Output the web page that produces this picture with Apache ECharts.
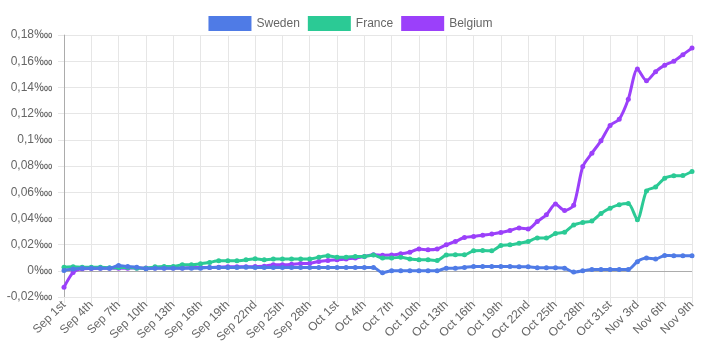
<!DOCTYPE html>
<html>
<head>
<meta charset="utf-8">
<script src="https://cdn.jsdelivr.net/npm/echarts@6/dist/echarts.min.js"></script>
<style>html,body{margin:0;padding:0;background:#fff;}#c{width:701px;height:356px;}</style>
</head>
<body>
<div id="c"></div>
<script>
const categories = [
 "Sep 1st","Sep 2nd","Sep 3rd","Sep 4th","Sep 5th","Sep 6th","Sep 7th","Sep 8th","Sep 9th","Sep 10th",
 "Sep 11th","Sep 12th","Sep 13th","Sep 14th","Sep 15th","Sep 16th","Sep 17th","Sep 18th","Sep 19th","Sep 20th",
 "Sep 21st","Sep 22nd","Sep 23rd","Sep 24th","Sep 25th","Sep 26th","Sep 27th","Sep 28th","Sep 29th","Sep 30th",
 "Oct 1st","Oct 2nd","Oct 3rd","Oct 4th","Oct 5th","Oct 6th","Oct 7th","Oct 8th","Oct 9th","Oct 10th",
 "Oct 11th","Oct 12th","Oct 13th","Oct 14th","Oct 15th","Oct 16th","Oct 17th","Oct 18th","Oct 19th","Oct 20th",
 "Oct 21st","Oct 22nd","Oct 23rd","Oct 24th","Oct 25th","Oct 26th","Oct 27th","Oct 28th","Oct 29th","Oct 30th",
 "Oct 31st","Nov 1st","Nov 2nd","Nov 3rd","Nov 4th","Nov 5th","Nov 6th","Nov 7th","Nov 8th","Nov 9th"
];
const sweden = [
 0.0003,0.0013,0.002,0.002,0.002,0.002,0.004,0.0033,0.0028,0.0015,
 0.002,0.002,0.002,0.002,0.002,0.002,0.0025,0.0025,0.0025,0.0025,
 0.0028,0.0025,0.0025,0.0025,0.0025,0.0025,0.0025,0.0025,0.0025,0.0025,
 0.0025,0.0025,0.0025,0.0025,0.0025,-0.0015,0,0,0,0,
 0,0,0.002,0.002,0.0025,0.0033,0.0033,0.0033,0.0033,0.0033,
 0.003,0.003,0.0023,0.0023,0.0023,0.002,-0.001,0,0.001,0.001,
 0.001,0.001,0.001,0.007,0.0097,0.009,0.0117,0.0115,0.0115,0.0115
];
const france = [
 0.0028,0.003,0.0028,0.0028,0.0028,0.0023,0.0025,0.0025,0.002,0.002,
 0.003,0.0033,0.0033,0.0046,0.0046,0.0053,0.0064,0.0076,0.0076,0.0076,
 0.0084,0.0092,0.0084,0.009,0.009,0.009,0.009,0.009,0.0104,0.0114,
 0.0104,0.0104,0.011,0.011,0.012,0.0097,0.0097,0.0104,0.009,0.0084,
 0.0084,0.0079,0.012,0.0122,0.0122,0.0153,0.0155,0.0153,0.0193,0.0198,
 0.021,0.0224,0.025,0.025,0.0285,0.0295,0.035,0.0369,0.038,0.0438,
 0.0478,0.0505,0.0513,0.039,0.061,0.064,0.0707,0.0725,0.0728,0.0758
];
const belgium = [
 -0.0125,-0.0013,0.0015,0.0018,0.002,0.002,0.002,0.002,0.0022,0.0022,
 0.0022,0.0022,0.0022,0.0022,0.0025,0.0025,0.0025,0.0028,0.003,0.003,
 0.003,0.0033,0.0035,0.0046,0.0046,0.005,0.0055,0.0058,0.0071,0.0079,
 0.0084,0.009,0.0097,0.011,0.0122,0.0119,0.012,0.013,0.0142,0.0166,
 0.016,0.0166,0.0198,0.0224,0.0254,0.0262,0.0272,0.028,0.0292,0.0308,
 0.0326,0.032,0.0376,0.0427,0.0509,0.046,0.050,0.0796,0.0898,0.0992,
 0.111,0.1157,0.131,0.154,0.145,0.152,0.157,0.160,0.165,0.170
];
const seriesNames = ["Sweden","France","Belgium"];
const seriesColors = ["#4f7be6","#2bca95","#9b40fa"];
const seriesData = [sweden, france, belgium];

const font = "'Liberation Sans', Arial, Helvetica, sans-serif";
const grid = '#e6e6e6';
const chart = echarts.init(document.getElementById('c'), null, {renderer:'canvas'});
const series = seriesNames.map((n,k)=>({
  name:n, type:'line', data:seriesData[k], z: 10-k,
  symbol:'circle', symbolSize:5, showSymbol:true,
  smooth:0.25,
  lineStyle:{width:3,color:seriesColors[k]},
  itemStyle:{color:seriesColors[k]},
  emphasis:{disabled:true}
}));
series[0].markLine = {silent:true, symbol:'none', label:{show:false},
  lineStyle:{color:'rgba(0,0,0,0.25)', width:1, type:'solid'},
  data:[{yAxis:0}], z:1};
chart.setOption({
  animation:false,
  backgroundColor:'#fff',
  legend:{
    data:seriesNames, top:11, left:'center', itemWidth:43, itemHeight:15, itemGap:8,
    icon:'rect', textStyle:{color:'#666', fontSize:12, fontFamily:font}
  },
  grid:{left:64, right:9, top:35, bottom:59, containLabel:false},
  xAxis:{
    type:'category', data:categories, boundaryGap:false,
    axisLine:{show:true, onZero:false, lineStyle:{color:grid}},
    axisTick:{show:true, interval:2, length:6, lineStyle:{color:grid}},
    axisLabel:{interval:2, rotate:45, margin:6, color:'#666', fontSize:12, fontFamily:font},
    splitLine:{show:true, interval:2, lineStyle:{color:grid}}
  },
  yAxis:{
    type:'value', min:-0.02, max:0.18, interval:0.02,
    axisLine:{show:true, lineStyle:{color:'rgba(0,0,0,0.25)'}},
    axisTick:{show:true, length:6, lineStyle:{color:grid}},
    axisLabel:{margin:11, color:'#666', fontSize:12, fontFamily:font,
      formatter:v=>(Math.round(v*100)/100).toString().replace('.',',')+'\u2031'},
    splitLine:{show:true, lineStyle:{color:grid}}
  },
  series:series
});
</script>
</body>
</html>
